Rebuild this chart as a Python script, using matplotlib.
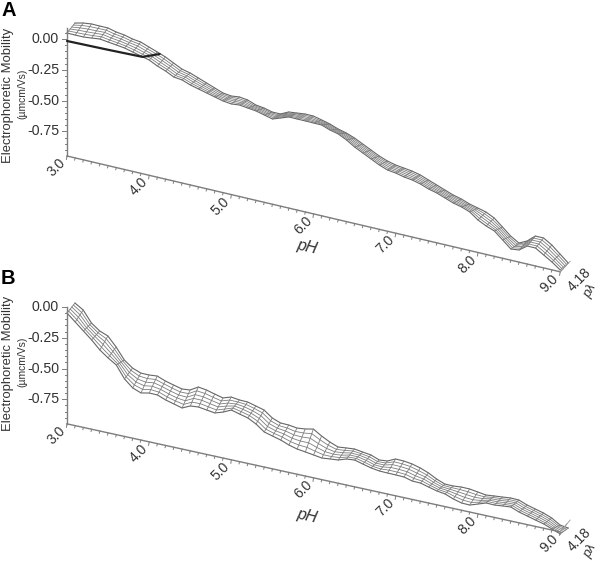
import numpy as np
import matplotlib
matplotlib.use('Agg')
import matplotlib.pyplot as plt

plt.rcParams['font.family'] = ['Liberation Sans', 'DejaVu Sans']

ph_ticks = [3.0, 4.0, 5.0, 6.0, 7.0, 8.0, 9.0]
mob_ticks = [0.0, -0.25, -0.5, -0.75]
mob_labels = ['0.00', '-0.25', '-0.50', '-0.75']
ph_grid = np.linspace(3.0, 9.0, 61)

# mobility along the two long edges of each surface, one value per 0.1 pH
a_front = [.05,.049,.049,.056,.064,.055,.047,.038,.021,.004,-.013,-.046,-.071,-.104,-.112,-.137,-.154,-.171,-.188,-.205,-.213,-.206,-.215,-.223,-.24,-.257,-.233,-.209,-.21,-.21,-.211,-.212,-.237,-.253,-.286,-.328,-.361,-.394,-.427,-.452,-.461,-.477,-.486,-.503,-.528,-.545,-.57,-.595,-.611,-.636,-.686,-.719,-.744,-.801,-.859,-.851,-.803,-.804,-.845,-.886,-.935]
a_back = [.074,.09,.098,.097,.097,.08,.071,.054,.045,.02,-.004,-.029,-.063,-.096,-.112,-.137,-.162,-.187,-.212,-.221,-.213,-.222,-.247,-.256,-.273,-.273,-.241,-.234,-.226,-.227,-.243,-.26,-.285,-.302,-.327,-.36,-.393,-.426,-.451,-.468,-.477,-.486,-.502,-.527,-.552,-.577,-.602,-.619,-.644,-.661,-.678,-.711,-.768,-.826,-.867,-.835,-.779,-.779,-.82,-.878,-.935]
b_front = [-.049,-.107,-.166,-.224,-.291,-.341,-.384,-.483,-.541,-.567,-.553,-.554,-.58,-.598,-.616,-.585,-.579,-.589,-.598,-.576,-.545,-.563,-.58,-.615,-.665,-.683,-.701,-.727,-.745,-.754,-.764,-.774,-.767,-.761,-.738,-.732,-.75,-.767,-.777,-.779,-.78,-.782,-.8,-.802,-.82,-.837,-.847,-.873,-.891,-.893,-.87,-.847,-.849,-.842,-.836,-.862,-.88,-.898,-.915,-.941,-.967]
b_back = [-.033,-.075,-.166,-.216,-.242,-.317,-.408,-.459,-.485,-.486,-.48,-.506,-.524,-.541,-.535,-.496,-.506,-.524,-.541,-.519,-.528,-.53,-.548,-.566,-.616,-.642,-.644,-.654,-.647,-.633,-.675,-.709,-.735,-.728,-.722,-.732,-.741,-.767,-.761,-.73,-.732,-.741,-.759,-.785,-.82,-.846,-.847,-.841,-.842,-.852,-.862,-.855,-.849,-.842,-.844,-.87,-.888,-.906,-.932,-.974,-.984]

# black trace on the surface in panel A
trace_ph = [3.0, 3.5, 3.92, 4.03]
trace_mob = [-0.015, -0.008, 0.0, -0.016]
trace_depth = [0, 0, 0, 1]

fig = plt.figure(figsize=(6, 5.61), dpi=100)
ax = fig.add_axes([0, 0, 1, 1])
ax.set_xlim(0, 600)
ax.set_ylim(561, 0)
ax.axis('off')

GREY = '#7d7d7d'
TEXT = '#333333'
BOTTOM = -0.95


def panel(letter, front, back, y0, slope, depth_y, letter_y, ph_dy, trace=False):
    # oblique view: pH runs right and down, mobility up, depth up and right
    def proj(ph, mob, depth=0.0):
        ph, mob = np.asarray(ph, float), np.asarray(mob, float)
        return (67 + 82.2 * (ph - 3) + 8 * np.asarray(depth),
                y0 + slope * (ph - 3) - 123 * mob - depth_y * np.asarray(depth))

    front, back = np.array(front), np.array(back)
    levels = np.linspace(0, 1, 6)
    surface = [proj(ph_grid, front + (back - front) * d, d) for d in levels]
    xs = np.array([s[0] for s in surface])
    ys = np.array([s[1] for s in surface])
    for i in range(len(levels)):
        edge = i in (0, len(levels) - 1)
        ax.plot(xs[i], ys[i], color='#666666' if edge else GREY, lw=0.8 if edge else 0.6)
    for j in range(len(ph_grid)):
        ax.plot(xs[:, j], ys[:, j], color=GREY, lw=0.6)

    # pH axis and its ticks
    x, y = proj([3, 9], [BOTTOM, BOTTOM])
    ax.plot(x, y, color=GREY, lw=1.0)
    for ph in ph_grid:
        x, y = proj(ph, BOTTOM)
        ax.plot([x, x - 0.6], [y, y + (3.5 if round(ph * 10) % 10 == 0 else 2.2)], color=GREY, lw=0.7)
    for ph in ph_ticks:
        x, y = proj(ph, BOTTOM)
        ax.text(x - 10.5, y + 11.5, '%.1f' % ph, rotation=45, ha='center', va='center',
                fontsize=10, color=TEXT, rotation_mode='anchor')

    # mobility axis and its ticks
    x, y = proj([3, 3], [BOTTOM, 0.09 if trace else 0.0])
    ax.plot(x, y, color=GREY, lw=1.0)
    for mob in np.arange(-0.9, 0.1 if trace else 0.01, 0.05):
        x, y = proj(3, mob)
        major = abs(mob / 0.25 - round(mob / 0.25)) < 0.01
        ax.plot([x - (5 if major else 2.5), x], [y, y], color=GREY, lw=0.7)
    for mob, lab in zip(mob_ticks, mob_labels):
        x, y = proj(3, mob)
        ax.text(x - 8, y, lab, ha='right', va='center', fontsize=10.2, color=TEXT)

    # depth axis fan at the far corner
    for d in np.linspace(0, 1.25, 4):
        x, y = proj([9, 9], [BOTTOM, BOTTOM + 0.012 * d], [0, d])
        ax.plot(x, y, color='#999999', lw=0.6)

    x, y = proj(9, BOTTOM)
    ax.text(x + 19, y + 8, '4.18', rotation=45, ha='center', va='center',
            fontsize=10, color=TEXT, rotation_mode='anchor')
    ax.text(x + 30.5, y + 19, 'p\u03bb', rotation=62, ha='center', va='center',
            fontsize=9.5, color=TEXT, style='italic', rotation_mode='anchor')
    x, y = proj(6, BOTTOM)
    ax.text(x - 6.5, y + ph_dy, 'pH', rotation=-13, ha='center', va='center',
            fontsize=11.5, color=TEXT, style='italic', rotation_mode='anchor')

    ax.text(1, letter_y, letter, fontsize=14.5, fontweight='bold', color='black', va='center')
    ax.text(8.5, y0 + 56, 'Electrophoretic Mobility', rotation=90, ha='center', va='center',
            fontsize=9.4, color=TEXT)
    ax.text(22, y0 + 55, '(\u00b5mcm/Vs)', rotation=90, ha='center', va='center',
            fontsize=7.4, color=TEXT)

    if trace:
        x, y = proj(trace_ph, trace_mob, trace_depth)
        ax.plot(x, y, color='#222222', lw=1.6, solid_capstyle='round')


panel('A', a_front, a_back, 39.15, 19.3, 7, 10, 33, trace=True)
panel('B', b_front, b_back, 307, 18, 8, 278, 38)

fig.savefig('out.png', dpi=100)
